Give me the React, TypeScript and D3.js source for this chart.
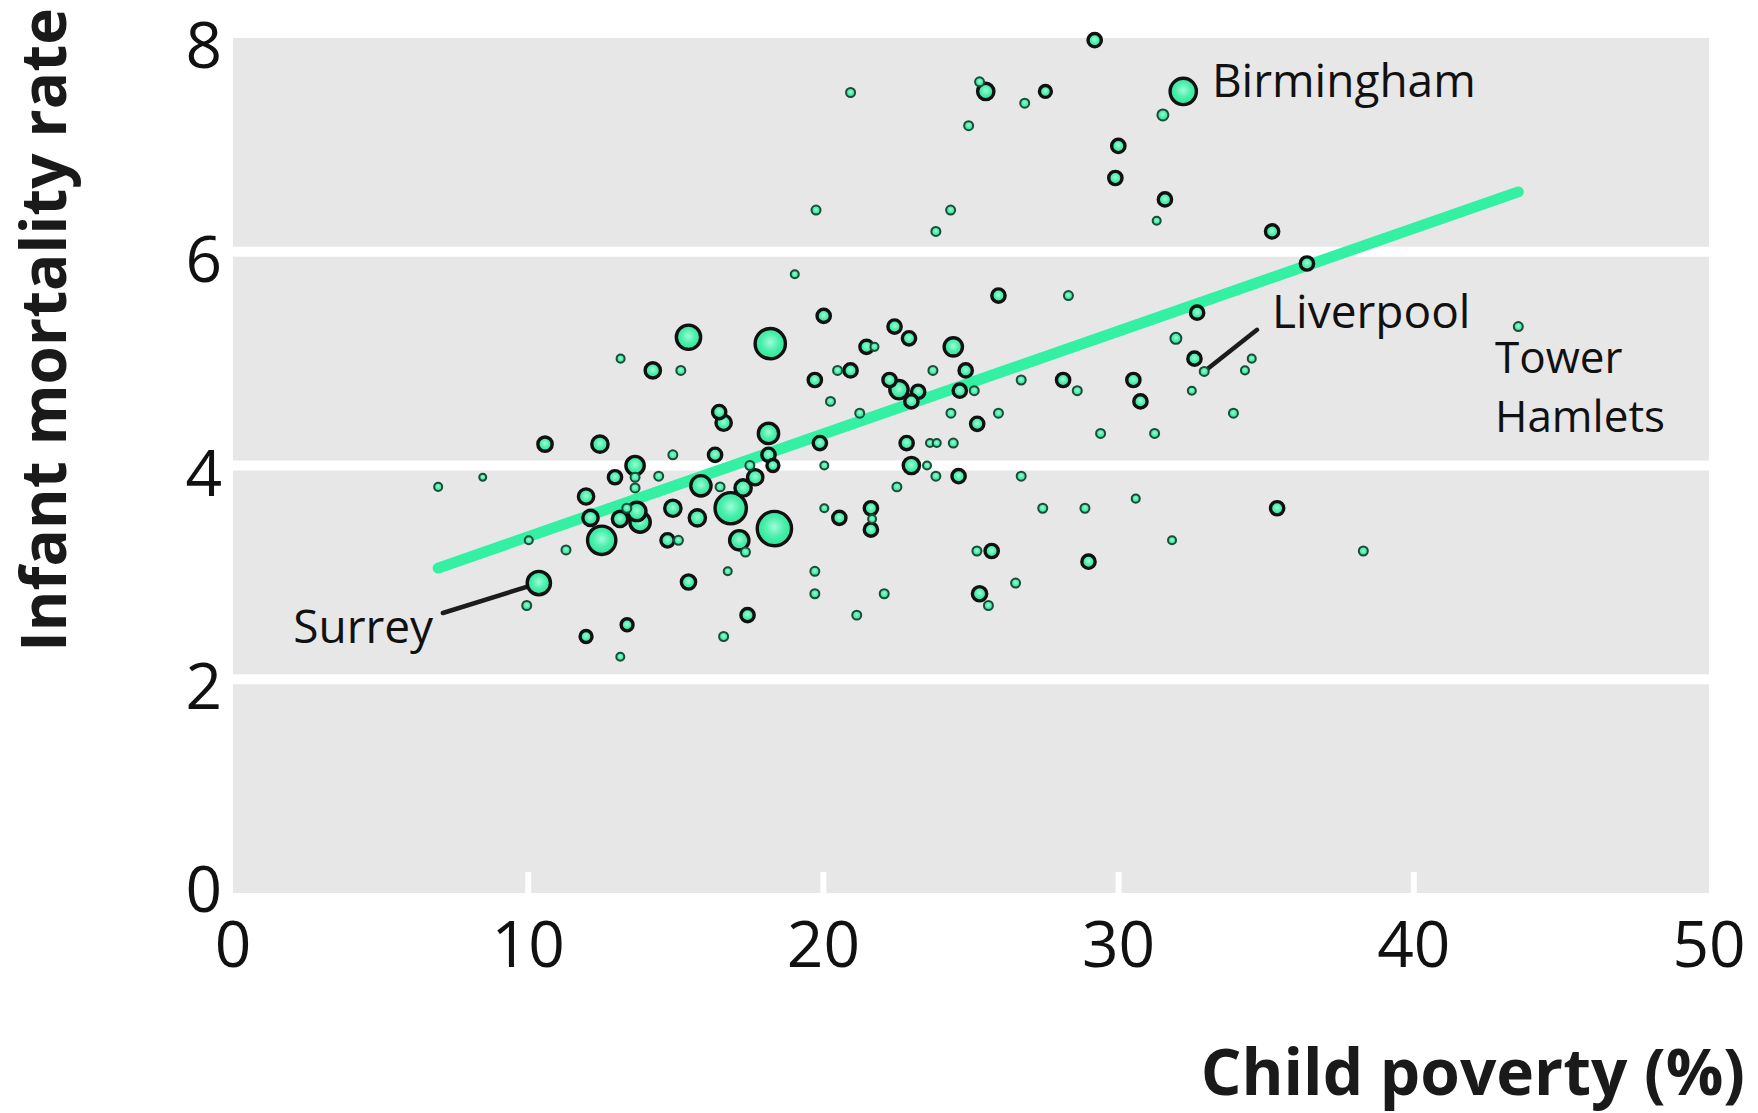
import React from 'react';
import * as d3 from 'd3';

const W = 1758;
const H = 1113;
const PLOT = { left: 233, right: 1709, top: 38, bottom: 893 };

const xTicks = [0, 10, 20, 30, 40, 50];
const yTicks = [0, 2, 4, 6, 8];
const yGrid = [2, 4, 6];
const xTickMarks = [10, 20, 30, 40];

// [child poverty %, infant mortality rate, population (thousands)]
const areas: [number, number, number][] = [
  [29.19, 7.98, 243], [20.92, 7.49, 108], [25.5, 7.5, 350], [25.29, 7.59, 108],
  [26.82, 7.39, 108], [27.52, 7.5, 200], [24.92, 7.18, 108], [32.19, 7.5, 847],
  [31.5, 7.28, 156], [29.99, 6.99, 243], [29.89, 6.69, 243], [31.57, 6.49, 243],
  [31.29, 6.29, 88], [19.75, 6.39, 108], [24.31, 6.39, 108], [23.81, 6.19, 108],
  [19.03, 5.79, 88], [25.93, 5.59, 243], [28.3, 5.59, 108], [20.01, 5.4, 243],
  [22.41, 5.3, 243], [22.9, 5.19, 243], [15.43, 5.2, 730], [18.2, 5.14, 1106],
  [21.46, 5.11, 243], [21.73, 5.11, 88], [24.4, 5.11, 432], [32.66, 5.43, 243],
  [31.94, 5.19, 156], [35.2, 6.19, 243], [36.38, 5.89, 243], [43.54, 5.3, 108],
  [32.57, 5.0, 243], [32.9, 4.88, 108], [34.51, 5.0, 88], [34.28, 4.89, 88],
  [32.48, 4.7, 88], [33.89, 4.49, 108], [31.22, 4.3, 108], [35.37, 3.6, 243],
  [31.81, 3.3, 88], [38.29, 3.2, 108], [14.22, 4.89, 312], [15.17, 4.89, 108],
  [19.71, 4.8, 243], [20.48, 4.89, 108], [20.92, 4.89, 243], [20.24, 4.6, 108],
  [21.23, 4.49, 108], [22.24, 4.8, 243], [22.56, 4.71, 432], [23.21, 4.69, 243],
  [22.98, 4.6, 243], [23.71, 4.89, 108], [24.82, 4.89, 243], [24.62, 4.7, 243],
  [25.11, 4.7, 108], [24.32, 4.49, 108], [25.21, 4.39, 243], [25.93, 4.49, 108],
  [26.7, 4.8, 108], [28.12, 4.8, 243], [28.6, 4.7, 108], [30.5, 4.8, 243],
  [30.74, 4.6, 243], [29.39, 4.3, 108], [14.9, 4.1, 108], [16.33, 4.1, 243],
  [16.47, 4.5, 243], [16.62, 4.4, 312], [18.14, 4.3, 523], [18.14, 4.1, 243],
  [18.29, 4.0, 200], [17.51, 4.0, 108], [20.03, 4.0, 88], [22.98, 4.0, 350],
  [23.51, 4.0, 88], [23.81, 3.9, 108], [24.58, 3.9, 243], [26.7, 3.9, 108],
  [14.42, 3.9, 108], [15.85, 3.81, 523], [16.5, 3.8, 108], [17.28, 3.79, 350],
  [17.69, 3.89, 312], [16.86, 3.6, 1176], [18.34, 3.41, 1400], [14.9, 3.6, 350],
  [15.73, 3.51, 350], [14.72, 3.3, 243], [15.09, 3.3, 108], [17.15, 3.3, 476],
  [17.36, 3.19, 108], [20.03, 3.6, 88], [20.54, 3.51, 243], [21.61, 3.6, 243],
  [21.65, 3.5, 88], [21.61, 3.4, 243], [15.43, 2.91, 277], [16.76, 3.01, 88],
  [19.71, 3.01, 108], [19.71, 2.8, 108], [17.43, 2.6, 243], [16.62, 2.4, 108],
  [21.13, 2.6, 108], [22.06, 2.8, 108], [22.49, 3.8, 108], [25.2, 3.2, 108],
  [25.7, 3.2, 243], [25.29, 2.8, 277], [25.59, 2.69, 108], [26.51, 2.9, 108],
  [27.43, 3.6, 108], [28.86, 3.6, 108], [28.98, 3.1, 243], [30.58, 3.69, 88],
  [19.88, 4.21, 243], [22.82, 4.21, 243], [23.61, 4.21, 88], [23.84, 4.21, 88],
  [24.4, 4.21, 108], [13.13, 5.0, 88], [10.57, 4.2, 277], [12.43, 4.2, 350],
  [13.62, 4.0, 432], [12.94, 3.89, 243], [13.62, 3.89, 108], [13.62, 3.79, 108],
  [11.96, 3.71, 312], [12.11, 3.51, 312], [12.49, 3.3, 972], [13.11, 3.5, 312],
  [13.34, 3.6, 108], [13.68, 3.57, 432], [13.79, 3.47, 523], [10.02, 3.3, 88],
  [11.28, 3.21, 108], [10.36, 2.9, 675], [9.95, 2.69, 108], [13.35, 2.51, 200],
  [11.96, 2.4, 200], [13.12, 2.21, 88], [6.95, 3.8, 88], [8.46, 3.89, 69],
];

const trend: [number, number][] = [[6.95, 3.04], [43.54, 6.56]];

// annotation labels (data coordinates of the text anchor)
const labelNames = ['Birmingham', 'Liverpool', 'Tower', 'Hamlets', 'Surrey'];
const labelX = [33.16, 35.2, 42.75, 42.75, 6.78];
const labelY = [7.45, 5.29, 4.87, 4.31, 2.34];
const labelAnchor = ['start', 'start', 'start', 'start', 'end'];
const labelSize = [46, 46, 44, 44, 46];

const leaders: [number, number, number, number][] = [
  [10.36, 2.9, 7.11, 2.62],
  [32.9, 4.88, 34.69, 5.27],
];

export default function App() {
  const x = d3.scaleLinear().domain([0, 50]).range([PLOT.left, PLOT.right]);
  const y = d3.scaleLinear().domain([0, 8]).range([PLOT.bottom, PLOT.top]);
  const r = d3.scaleSqrt().domain([0, 1400]).range([0, 18]);
  const line = d3.line<[number, number]>().x(d => x(d[0])).y(d => y(d[1]));
  const sorted = [...areas].sort((a, b) => b[2] - a[2]);
  const font = "'Open Sans', 'Noto Sans', sans-serif";

  return (
    <svg width={W} height={H} style={{ position: 'absolute', left: 0, top: 0, background: '#fff' }}
      fontFamily={font}>
      <defs>
        <radialGradient id="dotFill" cx="50%" cy="45%" r="55%">
          <stop offset="0%" stopColor="#9ffbd8" />
          <stop offset="55%" stopColor="#48efab" />
          <stop offset="100%" stopColor="#2be597" />
        </radialGradient>
      </defs>
      <rect x={PLOT.left} y={PLOT.top} width={PLOT.right - PLOT.left} height={PLOT.bottom - PLOT.top} fill="#e7e7e7" />
      {yGrid.map(v => (
        <line key={v} x1={PLOT.left} x2={PLOT.right} y1={y(v)} y2={y(v)} stroke="#fff" strokeWidth={10} />
      ))}
      {xTickMarks.map(v => (
        <line key={v} x1={x(v)} x2={x(v)} y1={PLOT.bottom - 21} y2={PLOT.bottom} stroke="#fff" strokeWidth={6} />
      ))}
      {yTicks.map(v => (
        <text key={v} x={222} y={v === 0 ? y(v) + 19 : y(v) + 30} textAnchor="end" fontSize={64} fill="#111">{v}</text>
      ))}
      {xTicks.map(v => (
        <text key={v} x={x(v)} y={967} textAnchor="middle" fontSize={64} fill="#111">{v}</text>
      ))}
      <path d={line(trend) || ''} stroke="#33f0a2" strokeWidth={11} strokeLinecap="round" fill="none" />
      {leaders.map((l, i) => (
        <line key={i} x1={x(l[0])} y1={y(l[1])} x2={x(l[2])} y2={y(l[3])} stroke="#1c1c1c" strokeWidth={4.5} strokeLinecap="round" />
      ))}
      {sorted.map((d, i) => {
        const rad = r(d[2]);
        const small = rad < 6.2;
        const sw = small ? 2 : 3.4;
        return (
          <circle key={i} cx={x(d[0])} cy={y(d[1])} r={Math.max(rad - sw / 4, 2)}
            fill="url(#dotFill)" stroke={small ? '#1d4a39' : '#111'} strokeWidth={sw} />
        );
      })}
      {labelNames.map((t, i) => (
        <text key={t} x={x(labelX[i])} y={y(labelY[i])} textAnchor={labelAnchor[i]} fontSize={labelSize[i]} fill="#111">{t}</text>
      ))}
      <text transform={`translate(66, 330) rotate(-90)`} textAnchor="middle" fontSize={62} fontWeight={700} fill="#1a1a1a">
        Infant mortality rate
      </text>
      <text x={1745} y={1095} textAnchor="end" fontSize={64} fontWeight={700} fill="#1a1a1a">Child poverty (%)</text>
    </svg>
  );
}
